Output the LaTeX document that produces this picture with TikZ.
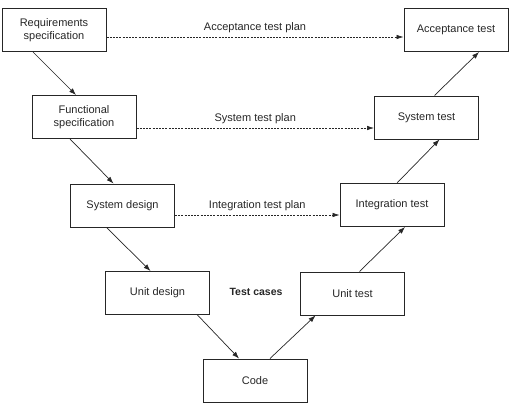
\documentclass[tikz,border=0pt]{standalone}
\usepackage{fontspec}
\setmainfont{Liberation Sans}
\usepackage{tikz}
\usetikzlibrary{arrows.meta,positioning}
\definecolor{colink}{HTML}{262626}

\begin{document}
\begin{tikzpicture}[
  x=1pt, y=1pt,
  font=\fontsize{11}{13.5}\selectfont,
  stage/.style={draw=colink,line width=1pt,minimum width=104pt,minimum height=43pt,
    align=center,inner sep=2pt,text=colink},
  flow/.style={-{Latex[length=7pt,width=5pt]},colink,line width=0.7pt},
  plan/.style={-{Latex[length=7pt,width=4.5pt]},colink,line width=0.6pt,
    dash pattern=on 2pt off 1.2pt},
]
  \useasboundingbox (0,0) rectangle (511,-404);
  % ---------------- left branch ----------------
  \node[stage] (req)   at (54,-30)     {Requirements\\specification};
  \node[stage] (func)  at (84,-117)    {Functional\\specification};
  \node[stage] (sysd)  at (122.5,-205.5) {System design};
  \node[stage] (unitd) at (157.5,-293) {Unit design};
  % ---------------- bottom ----------------
  \node[stage] (code)  at (255,-380.5) {Code};
  % ---------------- right branch ----------------
  \node[stage] (unitt) at (352.5,-293.5) {Unit test};
  \node[stage] (intt)  at (392,-205)   {Integration test};
  \node[stage] (syst)  at (426.5,-117.5) {System test};
  \node[stage] (acct)  at (456,-30)    {Acceptance test};
  % ---------------- down the V ----------------
  \draw[flow] ([xshift=-21pt]req.south)  -- ([xshift=-8pt]func.north);
  \draw[flow] ([xshift=-14pt]func.south) -- ([xshift=-9pt]sysd.north);
  \draw[flow] ([xshift=-16pt]sysd.south) -- ([xshift=-7pt]unitd.north);
  \draw[flow] ([xshift=40pt]unitd.south) -- ([xshift=-16pt]code.north);
  % ---------------- up the V ----------------
  \draw[flow] ([xshift=15pt]code.north)  -- ([xshift=-37pt]unitt.south);
  \draw[flow] ([xshift=7pt]unitt.north)  -- ([xshift=13pt]intt.south);
  \draw[flow] ([xshift=5pt]intt.north)   -- ([xshift=13pt]syst.south);
  \draw[flow] ([xshift=8pt]syst.north)   -- ([xshift=23pt]acct.south);
  % ---------------- test plans ----------------
  \draw[plan] ([yshift=-7pt]req.east) -- node[above=1pt,text=colink] {Acceptance test plan} ([yshift=-7pt]acct.west);
  \draw[plan] ([yshift=-11pt]func.east) -- node[above=1pt,text=colink] {System test plan} ([yshift=-10.5pt]syst.west);
  \draw[plan] ([yshift=-9.5pt]sysd.east) -- node[above=1pt,text=colink] {Integration test plan} ([yshift=-10pt]intt.west);
  \node[font=\fontsize{10.5}{12}\bfseries\selectfont,text=colink] (cases) at (256,-292) {Test cases};
\end{tikzpicture}
\end{document}
